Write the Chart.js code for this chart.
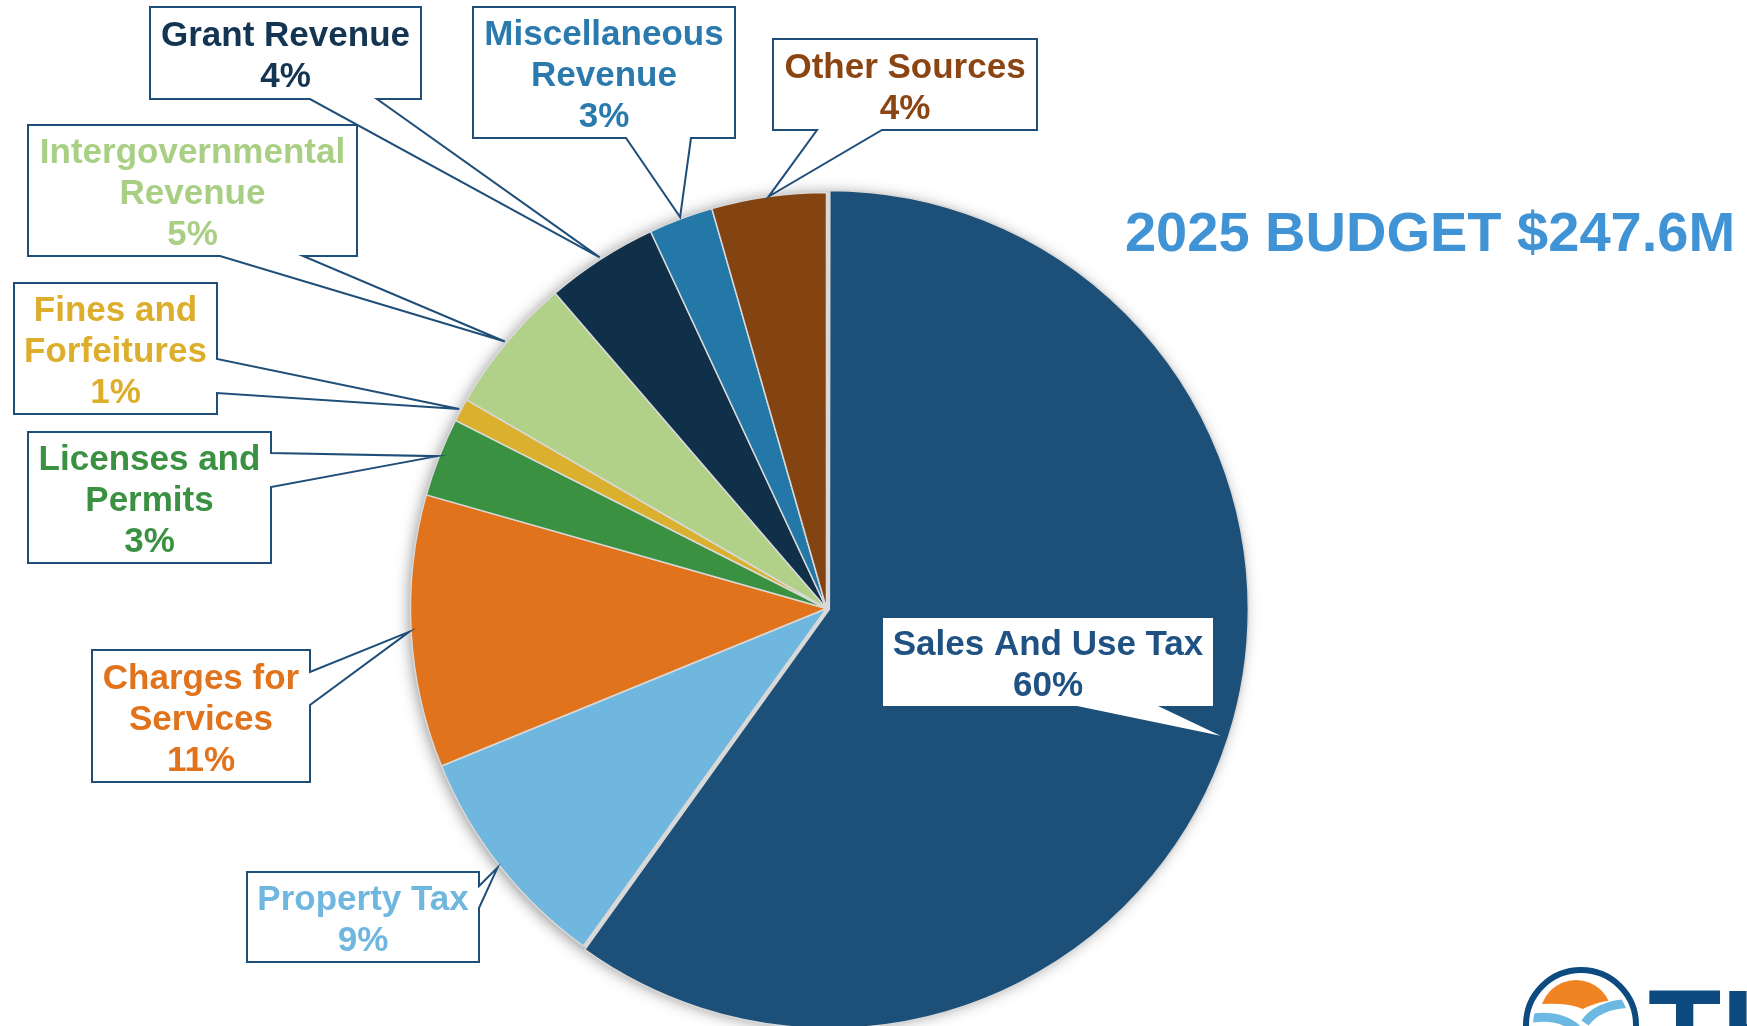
<!DOCTYPE html>
<html lang="en">
  <head>
    <meta charset="UTF-8" />
    <meta name="viewport" content="width=device-width, initial-scale=1.0" />
    <script src="https://cdn.jsdelivr.net/npm/chart.js@4.4.1/dist/chart.umd.min.js"></script>
    <title>2025 Budget Revenue Sources</title>
    <style>
      body {
        margin: 0;
        padding: 0;
        background: #fff;
      }

      .container {
        position: relative;
        width: 1747px;
        height: 1026px;
        overflow: hidden;
      }
    </style>
  </head>
  <body>
    <div class="container">
      <canvas id="budgetPie"></canvas>
    </div>
    <script>
      const budgetYear = 2025

      // revenue sources, clockwise from 12 o'clock (lines as shown in the callouts)
      const categories = [
        ['Sales And Use Tax'],
        ['Property Tax'],
        ['Charges for', 'Services'],
        ['Licenses and', 'Permits'],
        ['Fines and', 'Forfeitures'],
        ['Intergovernmental', 'Revenue'],
        ['Grant Revenue'],
        ['Miscellaneous', 'Revenue'],
        ['Other Sources'],
      ]

      // $ millions
      const amounts = [148.4, 22.0, 26.2, 7.6, 2.2, 13.2, 10.8, 6.2, 11.0]

      const sliceColors = ['#1c5079', '#6fb7df', '#e0731b', '#3a9142', '#dbb02e', '#b0d187', '#10304a', '#2478a8', '#844411']
      const labelColors = ['#1f5282', '#6fb7df', '#e0731b', '#3a9142', '#dcae2c', '#a9cf85', '#143552', '#2a7aad', '#8b4513']

      // callout boxes [left, top, right, bottom], the side the pointer leaves from,
      // where the pointer's base sits on that side, and how far past the rim it reaches
      const callouts = [
        { box: [883, 618, 1213, 706], side: 'bottom', base: [1077, 1158], reach: -8, border: false },
        { box: [247, 872, 479, 962], side: 'right', base: [886, 908], reach: 3 },
        { box: [92, 650, 310, 782], side: 'right', base: [672, 705], reach: 2 },
        { box: [28, 432, 271, 563], side: 'right', base: [453, 487], reach: 2 },
        { box: [14, 283, 217, 414], side: 'right', base: [359, 393], reach: 2 },
        { box: [28, 125, 357, 256], side: 'bottom', base: [220, 303], reach: 2 },
        { box: [150, 7, 421, 99], side: 'bottom', base: [310, 377], reach: 2 },
        { box: [473, 7, 735, 138], side: 'bottom', base: [626, 691], reach: 2 },
        { box: [773, 39, 1037, 130], side: 'bottom', base: [817, 882], reach: 0 },
      ]

      const total = amounts.reduce((a, b) => a + b, 0)
      const labelFont = 'bold 35px "Liberation Sans", Arial, sans-serif'

      // grey disc with soft shadow behind the slices
      const pieShadow = {
        id: 'pieShadow',
        beforeDatasetsDraw(chart) {
          const arc = chart.getDatasetMeta(0).data[1]
          const ctx = chart.ctx
          ctx.save()
          ctx.beginPath()
          ctx.arc(arc.x, arc.y, arc.outerRadius, 0, Math.PI * 2)
          ctx.fillStyle = '#d9d9d9'
          ctx.shadowColor = 'rgba(0, 0, 0, 0.5)'
          ctx.shadowBlur = 16
          ctx.shadowOffsetY = 2
          ctx.fill()
          ctx.restore()
        },
      }

      // wedge callouts pointing at the middle of each slice
      const calloutLabels = {
        id: 'calloutLabels',
        afterDatasetsDraw(chart) {
          const ctx = chart.ctx
          chart.getDatasetMeta(0).data.forEach((arc, i) => {
            const c = callouts[i]
            const { x, y, startAngle, endAngle, outerRadius } = arc.getProps(
              ['x', 'y', 'startAngle', 'endAngle', 'outerRadius'],
              true
            )
            const mid = (startAngle + endAngle) / 2
            const shift = (arc.options.offset || 0) / 4
            const r = outerRadius + c.reach + shift * 2
            const tx = x + Math.cos(mid) * r
            const ty = y + Math.sin(mid) * r
            const [x1, y1, x2, y2] = c.box

            ctx.save()
            ctx.beginPath()
            ctx.moveTo(x1, y1)
            ctx.lineTo(x2, y1)
            if (c.side === 'right') {
              ctx.lineTo(x2, c.base[0])
              ctx.lineTo(tx, ty)
              ctx.lineTo(x2, c.base[1])
            }
            ctx.lineTo(x2, y2)
            if (c.side === 'bottom') {
              ctx.lineTo(c.base[1], y2)
              ctx.lineTo(tx, ty)
              ctx.lineTo(c.base[0], y2)
            }
            ctx.lineTo(x1, y2)
            ctx.closePath()
            ctx.fillStyle = '#ffffff'
            ctx.fill()
            if (c.border !== false) {
              ctx.lineWidth = 2
              ctx.lineJoin = 'miter'
              ctx.strokeStyle = '#1f4e79'
              ctx.stroke()
            }

            const pct = Math.round((amounts[i] / total) * 100) + '%'
            const lines = [...categories[i], pct]
            ctx.font = labelFont
            ctx.fillStyle = labelColors[i]
            ctx.textAlign = 'center'
            ctx.textBaseline = 'middle'
            const cx = (x1 + x2) / 2
            const cy = (y1 + y2) / 2 + 4
            lines.forEach((t, k) => {
              ctx.fillText(t, cx, cy + (k - (lines.length - 1) / 2) * 41)
            })
            ctx.restore()
          })
        },
      }

      // headline and the corner logo
      const headline = {
        id: 'headline',
        afterDraw(chart) {
          const ctx = chart.ctx
          ctx.save()
          ctx.font = 'bold 56px "Liberation Sans", Arial, sans-serif'
          ctx.fillStyle = '#4094d5'
          ctx.textAlign = 'center'
          ctx.textBaseline = 'alphabetic'
          ctx.fillText(budgetYear + ' BUDGET $' + total.toFixed(1) + 'M', 1430, 251)

          const lx = 1581
          const ly = 1025
          ctx.beginPath()
          ctx.arc(lx, ly, 55, 0, Math.PI * 2)
          ctx.lineWidth = 6
          ctx.strokeStyle = '#0d4a80'
          ctx.stroke()

          ctx.save()
          ctx.beginPath()
          ctx.moveTo(lx - 50, ly - 60)
          ctx.lineTo(lx + 50, ly - 60)
          ctx.lineTo(lx + 50, ly - 26)
          ctx.quadraticCurveTo(lx + 20, ly - 26, lx + 2, ly - 16)
          ctx.quadraticCurveTo(lx - 16, ly - 24, lx - 50, ly - 20)
          ctx.closePath()
          ctx.clip()
          ctx.beginPath()
          ctx.arc(lx - 5, ly - 9, 36, 0, Math.PI * 2)
          ctx.fillStyle = '#f08423'
          ctx.fill()
          ctx.restore()

          ctx.save()
          ctx.beginPath()
          ctx.arc(lx, ly, 48, 0, Math.PI * 2)
          ctx.clip()
          ctx.strokeStyle = '#6cb8e2'
          ctx.lineWidth = 9
          ctx.beginPath()
          ctx.moveTo(lx - 55, ly - 6)
          ctx.quadraticCurveTo(lx - 22, ly - 12, lx - 4, ly + 4)
          ctx.stroke()
          ctx.beginPath()
          ctx.moveTo(lx + 55, ly - 22)
          ctx.quadraticCurveTo(lx + 18, ly - 22, lx + 4, ly - 2)
          ctx.stroke()
          ctx.restore()

          ctx.font = 'bold 120px "Liberation Sans", Arial, sans-serif'
          ctx.fillStyle = '#0d4a80'
          ctx.textAlign = 'left'
          ctx.fillText('TH', 1648, 1074)
          ctx.restore()
        },
      }

      const ctxBudget = document.getElementById('budgetPie').getContext('2d')
      const budgetChart = new Chart(ctxBudget, {
        type: 'pie',
        data: {
          labels: categories,
          datasets: [
            {
              data: amounts,
              backgroundColor: sliceColors,
              borderColor: '#d9d9d9',
              borderWidth: 1.5,
              offset: [12, 0, 0, 0, 0, 0, 0, 0, 0],
            },
          ],
        },
        options: {
          responsive: true,
          maintainAspectRatio: false,
          animation: false,
          radius: 416,
          layout: {
            padding: { top: 191, bottom: 0, left: 0, right: 94 },
          },
          plugins: {
            legend: { display: false },
            tooltip: { enabled: false },
          },
        },
        plugins: [pieShadow, calloutLabels, headline],
      })
    </script>
  </body>
</html>
